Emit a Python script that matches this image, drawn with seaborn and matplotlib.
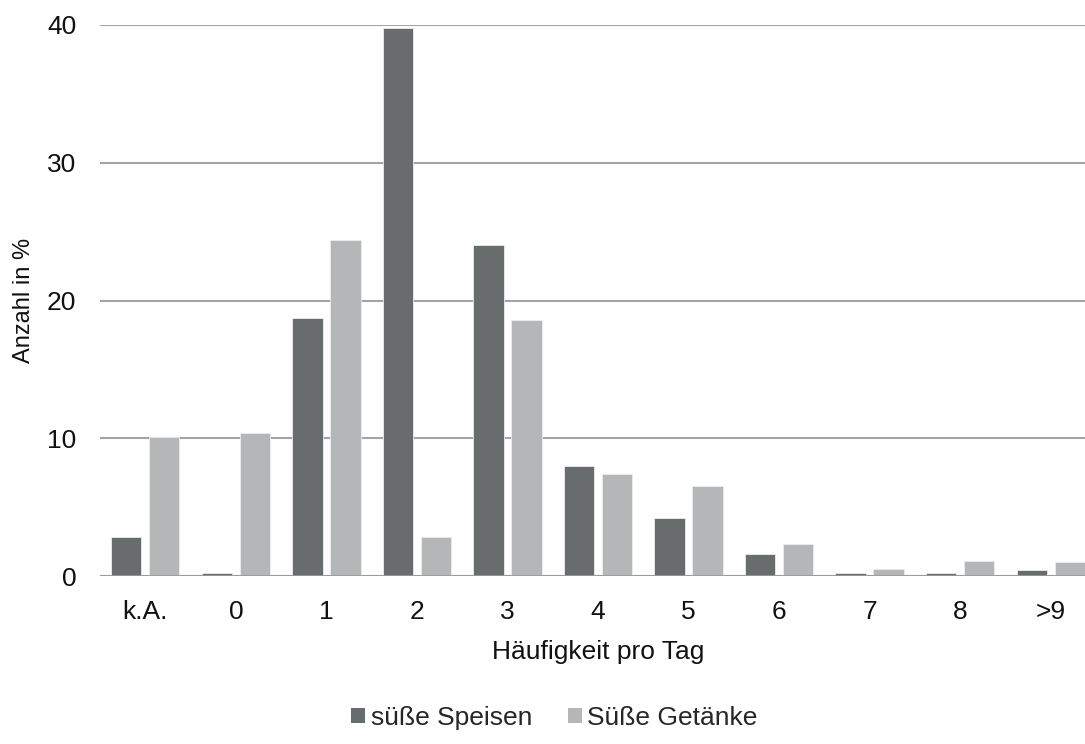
import matplotlib
matplotlib.use("Agg")
import matplotlib.pyplot as plt
import seaborn as sns
import pandas as pd
from matplotlib.patches import Patch

# Häufigkeit pro Tag (categories)
categories = ["k.A.", "0", "1", "2", "3", "4", "5", "6", "7", "8", ">9"]
series_names = ["süße Speisen", "Süße Getänke"]
speisen = [2.8, 0.2, 18.7, 39.8, 24.0, 8.0, 4.2, 1.6, 0.2, 0.2, 0.4]
getraenke = [10.1, 10.4, 24.4, 2.8, 18.6, 7.4, 6.5, 2.3, 0.5, 1.1, 1.0]
y_ticks = [0, 10, 20, 30, 40]

colors = ["#696c6c", "#b5b6b7"]
grid_color = "#a3a3a3"
text_color = "#111111"
fs = 19

df = pd.DataFrame({
    "Kategorie": categories * 2,
    "Wert": speisen + getraenke,
    "Serie": [series_names[0]] * len(categories) + [series_names[1]] * len(categories),
})

sns.set_theme(style="white")
plt.rcParams["font.family"] = ["Liberation Sans", "DejaVu Sans"]

fig = plt.figure(figsize=(10.85, 7.44), dpi=100)
ax = fig.add_axes([100 / 1085, 1 - 576 / 744, 996 / 1085, 551 / 744])

sns.barplot(
    data=df, x="Kategorie", y="Wert", hue="Serie",
    order=categories, hue_order=series_names,
    palette=colors, width=0.84, gap=0.2, saturation=1,
    edgecolor="#ececec", linewidth=0.6, ax=ax, legend=False, zorder=3,
)

ax.set_ylim(0, 40)
ax.set_xlim(-0.5, len(categories) - 0.5)
ax.set_yticks(y_ticks)
ax.set_yticklabels([str(t) for t in y_ticks])
for t in y_ticks:
    ax.axhline(t, color=grid_color, linewidth=1.5, zorder=1)
ax.axhline(0, color="#9a9a9a", linewidth=2, zorder=4)

for s in ax.spines.values():
    s.set_visible(False)

ax.tick_params(axis="y", length=0, pad=17, labelsize=fs, labelcolor=text_color)
ax.tick_params(axis="x", length=0, pad=17, labelsize=fs, labelcolor=text_color)
ax.set_xlabel("Häufigkeit pro Tag", fontsize=fs, labelpad=12, color=text_color)
ax.set_ylabel("Anzahl in %", fontsize=17, labelpad=9, color=text_color)

handles = [Patch(facecolor=c, edgecolor="none") for c in colors]
fig.legend(
    handles, series_names, loc="center", bbox_to_anchor=(554.5 / 1085, 1 - 718 / 744),
    ncol=2, frameon=False, fontsize=fs, handlelength=0.53, handleheight=0.53,
    handletextpad=0.2, columnspacing=1.36, borderpad=0.1,
)

fig.savefig("out.png", dpi=100)
